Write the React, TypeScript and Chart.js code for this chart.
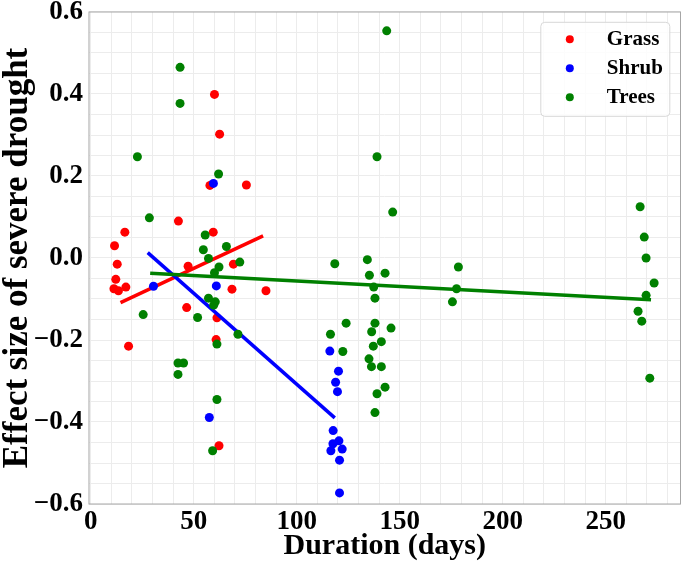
import { Chart, registerables } from 'chart.js';
import { useRef, useEffect } from 'react';
Chart.register(...registerables);

// Grass
const grassX = [60.1, 62.6, 57.9, 75.6, 42.6, 16.6, 59.5, 11.6, 12.9, 12.2, 11.3, 13.5, 17.1, 47.3, 69.3, 68.6, 85.1, 46.6, 61.3, 18.4, 60.9, 62.3];
const grassY = [0.399, 0.302, 0.177, 0.178, 0.090, 0.063, 0.063, 0.030, -0.015, -0.052, -0.075, -0.080, -0.071, -0.020, -0.015, -0.076, -0.080, -0.121, -0.146, -0.215, -0.199, -0.458];

// Shrub
const shrubX = [59.6, 30.5, 61.0, 57.6, 116.1, 120.3, 118.9, 119.8, 117.7, 117.6, 120.5, 116.6, 122.1, 120.8, 120.8];
const shrubY = [0.182, -0.069, -0.068, -0.389, -0.227, -0.276, -0.303, -0.326, -0.421, -0.453, -0.446, -0.470, -0.466, -0.493, -0.573];

// Trees
const treesX = [43.4, 43.4, 22.7, 62.1, 28.5, 55.6, 54.7, 65.9, 57.2, 72.4, 62.3, 60.1, 25.5, 51.9, 57.2, 60.5, 59.7, 71.5, 61.3, 42.4, 45.1, 42.4, 61.3, 59.2,
  143.7, 139.0, 146.6, 118.5, 134.3, 135.3, 142.9, 137.4, 138.0, 178.5, 177.6, 175.6, 116.4, 124.0, 122.4, 138.0, 136.4, 145.8, 141.1, 137.2, 135.1, 136.3, 141.1, 142.9, 139.0, 138.0,
  266.7, 268.7, 269.6, 273.5, 269.6, 265.7, 267.5, 271.4];
const treesY = [0.465, 0.377, 0.247, 0.205, 0.098, 0.056, 0.020, 0.028, -0.001, -0.010, -0.022, -0.036, -0.138, -0.145, -0.098, -0.107, -0.115, -0.186, -0.210, -0.256, -0.256, -0.284, -0.345, -0.470,
  0.554, 0.247, 0.112, -0.014, -0.004, -0.042, -0.037, -0.071, -0.098, -0.022, -0.075, -0.107, -0.186, -0.159, -0.228, -0.159, -0.180, -0.171, -0.204, -0.215, -0.246, -0.265, -0.265, -0.315, -0.331, -0.377,
  0.125, 0.051, 0.000, -0.061, -0.091, -0.130, -0.154, -0.293];

// fitted lines (start, end)
const grassFitX = [14.5, 83.7];
const grassFitY = [-0.109, 0.054];
const shrubFitX = [27.7, 118.5];
const shrubFitY = [0.013, -0.390];
const treesFitX = [28.9, 272.0];
const treesFitY = [-0.037, -0.102];

const legendLabels = ['Grass', 'Shrub', 'Trees'];
const legendColors = ['#ff0000', '#0000ff', '#008000'];

const FONT = "'Liberation Serif', 'Times New Roman', serif";

const pts = (xs: number[], ys: number[]) => xs.map((x, i) => ({ x, y: ys[i] }));

const framePlugin = {
    id: 'frameAndLegend',
    afterDraw(chart: any) {
        const { ctx, chartArea } = chart;
        ctx.save();
        ctx.strokeStyle = '#a6a6a6';
        ctx.lineWidth = 1;
        ctx.strokeRect(chartArea.left, chartArea.top, chartArea.right - chartArea.left, chartArea.bottom - chartArea.top);

        // legend box
        const bw = 129, bh = 94;
        const bx = chartArea.right - 10.7 - bw;
        const by = chartArea.top + 10.3;
        ctx.fillStyle = 'rgba(255,255,255,0.85)';
        ctx.strokeStyle = '#d8d8d8';
        ctx.beginPath();
        ctx.roundRect(bx, by, bw, bh, 4);
        ctx.fill();
        ctx.stroke();
        ctx.font = `bold 21px ${FONT}`;
        ctx.textBaseline = 'middle';
        ctx.textAlign = 'left';
        legendLabels.forEach((label, i) => {
            const cy = by + 17 + i * 29;
            ctx.fillStyle = legendColors[i];
            ctx.beginPath();
            ctx.arc(bx + 29, cy, 4, 0, Math.PI * 2);
            ctx.fill();
            ctx.fillStyle = '#000';
            ctx.fillText(label, bx + 66, cy);
        });
        ctx.restore();
    }
};

const App = () => {
    const chartRef = useRef(null);

    useEffect(() => {
        let myChart: any = null;

        if (chartRef.current) {
            myChart = new Chart(chartRef.current, {
                type: 'scatter',
                data: {
                    datasets: [
                        { label: 'Grass', data: pts(grassX, grassY), backgroundColor: legendColors[0], borderWidth: 0, pointRadius: 4.5, order: 5 },
                        { label: 'Grass fit', type: 'line', data: pts(grassFitX, grassFitY), borderColor: legendColors[0], borderWidth: 3.5, pointRadius: 0, order: 4 },
                        { label: 'Shrub', data: pts(shrubX, shrubY), backgroundColor: legendColors[1], borderWidth: 0, pointRadius: 4.5, order: 3 },
                        { label: 'Shrub fit', type: 'line', data: pts(shrubFitX, shrubFitY), borderColor: legendColors[1], borderWidth: 3.5, pointRadius: 0, order: 2 },
                        { label: 'Trees', data: pts(treesX, treesY), backgroundColor: legendColors[2], borderWidth: 0, pointRadius: 4.5, order: 1 },
                        { label: 'Trees fit', type: 'line', data: pts(treesFitX, treesFitY), borderColor: legendColors[2], borderWidth: 3.5, pointRadius: 0, order: 0 }
                    ]
                },
                options: {
                    animation: false,
                    responsive: true,
                    maintainAspectRatio: false,
                    layout: { padding: { top: 12, right: 2, left: 0, bottom: 0 } },
                    plugins: {
                        legend: { display: false },
                        tooltip: { enabled: false }
                    },
                    scales: {
                        x: {
                            type: 'linear',
                            min: -0.8,
                            max: 286.3,
                            afterBuildTicks: (scale: any) => {
                                scale.ticks = Array.from({ length: 29 }, (_, i) => ({ value: i * 10 }));
                            },
                            afterFit: (scale: any) => {
                                scale.height = 60;
                                scale.paddingLeft = 0;
                                scale.paddingRight = 0;
                            },
                            grid: { color: '#ececec', drawTicks: false },
                            border: { display: false },
                            ticks: {
                                autoSkip: false,
                                maxRotation: 0,
                                padding: 2,
                                color: '#000',
                                font: { family: FONT, size: 27, weight: 'bold' },
                                callback: (v: any) => (Math.round(v) % 50 === 0 ? String(Math.round(v)) : '')
                            },
                            title: {
                                display: true,
                                text: 'Duration (days)',
                                color: '#000',
                                padding: 0,
                                font: { family: FONT, size: 30, weight: 'bold' }
                            }
                        },
                        y: {
                            min: -0.6,
                            max: 0.6,
                            afterBuildTicks: (scale: any) => {
                                scale.ticks = Array.from({ length: 25 }, (_, i) => ({ value: -0.6 + i * 0.05 }));
                            },
                            afterFit: (scale: any) => {
                                scale.width = 89;
                                scale.paddingTop = 0;
                                scale.paddingBottom = 0;
                            },
                            grid: { color: '#ececec', drawTicks: false },
                            border: { display: false },
                            ticks: {
                                autoSkip: false,
                                padding: 6,
                                color: '#000',
                                font: { family: FONT, size: 27, weight: 'bold' },
                                callback: (v: any) => {
                                    const k = Math.round(v * 20);
                                    if (k % 4 !== 0) return '';
                                    return (k / 20).toFixed(1).replace('-', '\u2212');
                                }
                            },
                            title: {
                                display: true,
                                text: 'Effect size of severe drought',
                                color: '#000',
                                padding: 0,
                                font: { family: FONT, size: 35, weight: 'bold', lineHeight: 1 }
                            }
                        }
                    }
                },
                plugins: [framePlugin]
            } as any);
        }

        return () => {
            if (myChart) {
                myChart.destroy();
            }
        };
    }, []);

    return (
        <div style={{ position: 'fixed', left: 0, top: 0, width: 685, height: 564, background: '#fff' }}>
            <canvas ref={chartRef}></canvas>
        </div>
    );
};

export default App;
